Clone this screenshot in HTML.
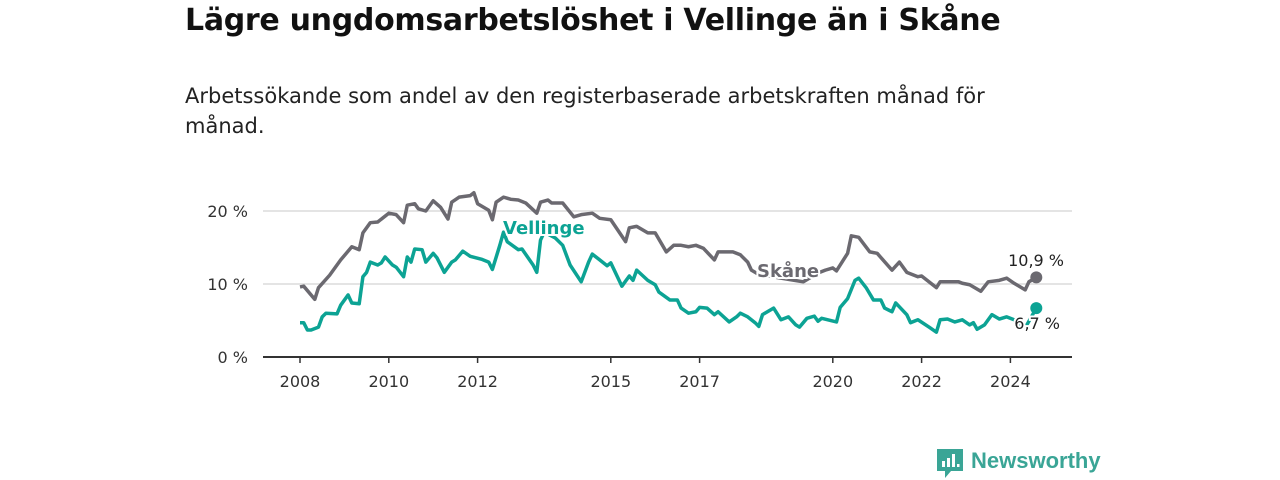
<!DOCTYPE html>
<html><head><meta charset="utf-8"><style>
body{margin:0;width:1280px;height:480px;background:#fff;overflow:hidden;font-family:"DejaVu Sans","Liberation Sans",sans-serif;color:#111}
h1{position:absolute;left:185px;top:3px;margin:0;font-size:30px;font-weight:bold;letter-spacing:-0.3px}
p.sub{position:absolute;left:185px;top:81px;margin:0;font-size:21px;line-height:30px;width:835px;color:#222}
svg{position:absolute;left:0;top:0}
</style></head><body>
<h1>Lägre ungdomsarbetslöshet i Vellinge än i Skåne</h1>
<p class="sub">Arbetssökande som andel av den registerbaserade arbetskraften månad för månad.</p>
<svg id="chart" width="1280" height="480"></svg>
<script>
const yTicks=[0,10,20];
const yTickLabels=["0 %","10 %","20 %"];
const xTickYears=[2008,2010,2012,2015,2017,2020,2022,2024];
// months since Jan 2008
const skaneMonths=[0,1,4,5,8,11,14,16,17,19,21,24,26,28,29,31,32,34,36,38,40,41,43,46,47,48,51,52,53,55,57,59,61,64,65,67,68,71,74,76,79,81,84,88,89,91,94,96,99,101,103,105,107,109,112,113,117,119,121,122,124,130,136,140,142,144,145,148,149,151,154,156,160,162,164,167,168,172,173,178,179,181,184,186,189,191,193,196,197,199];
const skaneValues=[9.6,9.7,7.9,9.5,11.2,13.3,15.1,14.7,17,18.4,18.5,19.7,19.5,18.4,20.8,21,20.3,20,21.4,20.5,18.9,21.2,21.9,22.1,22.5,21,20.1,18.8,21.2,21.9,21.6,21.5,21.1,19.7,21.2,21.5,21.1,21.1,19.2,19.5,19.7,19,18.8,15.8,17.7,17.9,17,17,14.4,15.3,15.3,15.1,15.3,14.9,13.3,14.4,14.4,14,13,11.9,11.3,10.8,10.3,11.5,11.9,12.2,11.8,14.2,16.6,16.4,14.4,14.2,11.9,13,11.6,11,11.1,9.5,10.3,10.3,10.1,9.9,9,10.3,10.5,10.8,10.1,9.2,10.3,10.9];
const vellMonths=[0,1,2,3,5,6,7,10,11,13,14,16,17,18,19,21,22,23,25,26,28,29,30,31,33,34,36,37,39,41,42,44,46,49,51,52,54,55,56,59,60,63,64,65,66,69,71,73,76,78,79,81,83,84,87,89,90,91,94,96,97,100,102,103,105,107,108,110,112,113,116,118,119,121,123,124,125,128,130,132,134,135,137,139,140,141,145,146,148,150,151,153,155,157,158,160,161,164,165,167,170,172,173,175,177,179,181,182,183,185,187,189,191,193,196,199];
const vellValues=[4.7,4.7,3.7,3.7,4.1,5.5,6,5.9,7.1,8.5,7.4,7.3,11,11.6,13,12.6,12.9,13.7,12.6,12.3,11,13.7,13,14.8,14.7,13,14.2,13.6,11.6,13,13.3,14.5,13.8,13.4,13,12,15.3,17.1,15.8,14.7,14.8,12.6,11.6,16,17.1,16.3,15.3,12.6,10.3,13,14.1,13.3,12.5,12.9,9.7,11.1,10.5,11.9,10.5,9.9,8.9,7.8,7.8,6.7,6,6.2,6.8,6.7,5.8,6.2,4.8,5.5,6,5.5,4.7,4.2,5.8,6.7,5.1,5.5,4.4,4.1,5.3,5.6,4.9,5.3,4.8,6.8,8,10.5,10.8,9.5,7.8,7.8,6.7,6.2,7.4,5.8,4.7,5.1,4.1,3.4,5.1,5.2,4.8,5.1,4.4,4.7,3.8,4.4,5.8,5.2,5.5,5.1,4,6.7];
const fmt=v=>v.toFixed(1).replace('.',',')+' %';
const X=m=>300+m*3.7, Y=v=>357-v*7.3, XY=y=>X((y-2008)*12);
const svg=document.getElementById('chart'),NS='http://www.w3.org/2000/svg';
function mk(t,a,txt){const e=document.createElementNS(NS,t);for(const k in a)e.setAttribute(k,a[k]);if(txt!=null)e.textContent=txt;svg.appendChild(e);return e;}
yTicks.forEach((v,i)=>{
  if(v>0){const g=mk('line',{x1:263,x2:1072,y1:Y(v),y2:Y(v),stroke:'#dcdcdc','stroke-width':1.5});
  
  }
  const t=mk('text',{x:248,y:Y(v)+6,'text-anchor':'end','font-size':16,fill:'#333'},yTickLabels[i]);
  
  
});
const ax=mk('line',{x1:263,x2:1072,y1:357,y2:357,stroke:'#333','stroke-width':2});


xTickYears.forEach(y=>{
  const tk=mk('line',{x1:XY(y),x2:XY(y),y1:357,y2:363,stroke:'#333','stroke-width':1.5});
  
  
  const t=mk('text',{x:XY(y),y:387,'text-anchor':'middle','font-size':16,fill:'#333'},y);
  
  
});
function line(ms,vs,col,name){
  const p=mk('polyline',{points:ms.map((m,i)=>X(m)+','+Y(vs[i])).join(' '),fill:'none',stroke:col,'stroke-width':3.5,'stroke-linejoin':'round'});
  
  
  const n=ms.length-1;
  const c=mk('circle',{cx:X(ms[n]),cy:Y(vs[n]),r:6,fill:col});
  
  
}
const GR='#6b6970',TE='#0ca394';
line(skaneMonths,skaneValues,GR,'skane');
line(vellMonths,vellValues,TE,'vellinge');
function lbl(x,y,txt,col,bold,name,anchor){
  const a={x:x,y:y,'font-size':bold?18:16,'font-weight':bold?'bold':'normal',fill:col,stroke:'#fff','stroke-width':4,'paint-order':'stroke','text-anchor':anchor||'start'};
  const t=mk('text',a,txt);
  
  
}
lbl(503,234,'Vellinge',TE,true,'vellinge-label');
lbl(757,277,'Skåne',GR,true,'skane-label');
lbl(1064,266,fmt(skaneValues[skaneValues.length-1]),'#222',false,'skane-value-label','end');
lbl(1060,329,fmt(vellValues[vellValues.length-1]),'#222',false,'vellinge-value-label','end');
</script>
<div style="position:absolute;left:937px;top:449px;display:flex;align-items:center">
<svg width="26" height="30" viewBox="0 0 26 30" style="position:static"><path d="M0 0H26V22H14L8 29V22H0Z" fill="#3aa596"/><rect x="5" y="12" width="3" height="6" fill="#fff"/><rect x="10" y="9" width="3" height="9" fill="#fff"/><rect x="15" y="5" width="3" height="13" fill="#fff"/><rect x="20" y="15" width="2.5" height="3" fill="#fff"/></svg>
<span style="margin-left:8px;font-family:'Liberation Sans',sans-serif;font-size:22px;font-weight:bold;color:#3aa596;margin-top:-6px">Newsworthy</span></div>
</body></html>
